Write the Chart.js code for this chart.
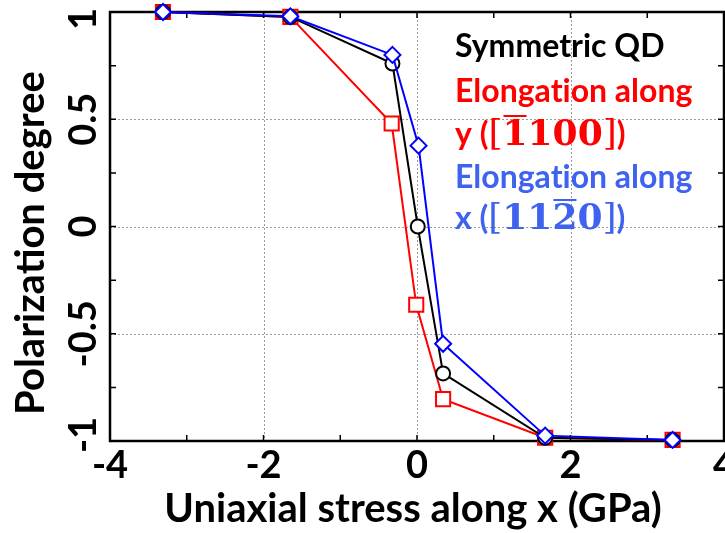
<!DOCTYPE html>
<html>
<head>
<meta charset="utf-8">
<script src="https://cdn.jsdelivr.net/npm/chart.js"></script>
<style>
  html, body { margin: 0; padding: 0; overflow: hidden; background: #fff; }
  #stressChart { display: block; }
</style>
</head>
<body>
<canvas id="stressChart" width="745" height="533"></canvas>
<script>
// Uniaxial stress (GPa) and polarization degree
const stressSym = [-3.31, -1.65, -0.32, 0.01, 0.34, 1.67, 3.33];
const polSym    = [1.0, 0.977, 0.76, 0.0, -0.685, -0.985, -0.995];
const stressY   = [-3.31, -1.65, -0.33, -0.01, 0.34, 1.67, 3.33];
const polY      = [1.0, 0.977, 0.48, -0.365, -0.805, -0.985, -0.995];
const stressX   = [-3.31, -1.65, -0.32, 0.02, 0.34, 1.67, 3.33];
const polX      = [1.0, 0.98, 0.80, 0.377, -0.547, -0.975, -0.995];

// axis ticks
const xMinorTicks = [-4, -3, -2, -1, 0, 1, 2, 3, 4];
const xTickLabels = [-4, -2, 0, 2, 4];
const yMinorTicks = [-1, -0.75, -0.5, -0.25, 0, 0.25, 0.5, 0.75, 1];
const yTickLabels = [-1, -0.5, 0, 0.5, 1];

const SANS = 'Lato, "Open Sans", sans-serif';
const SERIF = '"DejaVu Serif", "Liberation Serif", serif';
const LEG = 'bold 32px ' + SANS;
const BLUE_TEXT = '#3f63ee';

function toPoints(xs, ys) {
    return xs.map((x, i) => ({ x: x, y: ys[i] }));
}

// "Elongation" split in two runs so Lato does not join "ti"
const elongRuns = [{ t: 'Elongat', f: LEG }, { t: 'ion along', f: LEG }];

// legend lines, each made of runs of text
const legendLines = [
    { color: '#000000', runs: [{ t: 'Symmetric QD', f: LEG }] },
    { color: '#ff0000', runs: elongRuns },
    { color: '#ff0000', runs: [
        { t: 'y (', f: LEG },
        { t: '[', f: '36px ' + SERIF },
        { t: '1', f: 'bold 36px ' + SERIF, bar: true },
        { t: '100', f: 'bold 36px ' + SERIF },
        { t: ']', f: '36px ' + SERIF },
        { t: ')', f: LEG }
    ] },
    { color: BLUE_TEXT, runs: elongRuns },
    { color: BLUE_TEXT, runs: [
        { t: 'x (', f: LEG },
        { t: '[', f: '36px ' + SERIF },
        { t: '11', f: 'bold 36px ' + SERIF },
        { t: '2', f: 'bold 36px ' + SERIF, bar: true },
        { t: '0', f: 'bold 36px ' + SERIF },
        { t: ']', f: '36px ' + SERIF },
        { t: ')', f: LEG }
    ] }
];

const framePlugin = {
    id: 'matlabFrame',
    beforeDatasetsDraw(chart) {
        const { ctx, chartArea: a, scales: { x, y } } = chart;
        ctx.save();
        // dotted grid at labelled ticks
        ctx.strokeStyle = '#9a9a9a';
        ctx.lineWidth = 1;
        ctx.setLineDash([2, 2]);
        xTickLabels.forEach(v => {
            const px = Math.round(x.getPixelForValue(v)) + 0.5;
            ctx.beginPath(); ctx.moveTo(px, a.top); ctx.lineTo(px, a.bottom); ctx.stroke();
        });
        yTickLabels.forEach(v => {
            const py = Math.round(y.getPixelForValue(v)) + 0.5;
            ctx.beginPath(); ctx.moveTo(a.left, py); ctx.lineTo(a.right, py); ctx.stroke();
        });
        ctx.setLineDash([]);
        // inward tick marks
        ctx.strokeStyle = '#000';
        ctx.lineWidth = 1.5;
        xMinorTicks.forEach(v => {
            const px = x.getPixelForValue(v);
            ctx.beginPath();
            ctx.moveTo(px, a.bottom); ctx.lineTo(px, a.bottom - 6);
            ctx.moveTo(px, a.top); ctx.lineTo(px, a.top + 6);
            ctx.stroke();
        });
        yMinorTicks.forEach(v => {
            const py = y.getPixelForValue(v);
            ctx.beginPath();
            ctx.moveTo(a.left, py); ctx.lineTo(a.left + 6, py);
            ctx.moveTo(a.right, py); ctx.lineTo(a.right - 6, py);
            ctx.stroke();
        });
        // box
        ctx.lineWidth = 2.5;
        ctx.strokeRect(a.left, a.top, a.right - a.left, a.bottom - a.top);
        ctx.restore();
    },
    afterDraw(chart) {
        const { ctx, chartArea: a, scales: { y } } = chart;
        ctx.save();
        ctx.fillStyle = '#000';
        // rotated y tick labels
        ctx.font = 'bold 38px ' + SANS;
        ctx.textAlign = 'center';
        ctx.textBaseline = 'alphabetic';
        yTickLabels.forEach(v => {
            let py = y.getPixelForValue(v);
            py = Math.min(Math.max(py, a.top + 7), a.bottom - 6);
            ctx.save();
            ctx.translate(96, py);
            ctx.rotate(-Math.PI / 2);
            ctx.fillText(String(v), 0, 0);
            ctx.restore();
        });
        // axis titles
        ctx.font = 'bold 40px ' + SANS;
        ctx.save();
        ctx.translate(44, 243);
        ctx.rotate(-Math.PI / 2);
        ctx.fillText('Polarization degree', 0, 0);
        ctx.restore();
        ctx.fillText('Uniaxial stress along x (GPa)', 413, 522);

        // text legend
        ctx.textAlign = 'left';
        const baselines = [57, 102, 145, 188, 229];
        legendLines.forEach((line, i) => {
            let cx = 455;
            ctx.fillStyle = line.color;
            ctx.strokeStyle = line.color;
            line.runs.forEach(run => {
                ctx.font = run.f;
                const w = ctx.measureText(run.t).width;
                ctx.fillText(run.t, cx, baselines[i]);
                if (run.bar) {
                    ctx.lineWidth = 2;
                    ctx.beginPath();
                    ctx.moveTo(cx + 1, baselines[i] - 29);
                    ctx.lineTo(cx + w - 1, baselines[i] - 29);
                    ctx.stroke();
                }
                cx += w;
            });
        });
        ctx.restore();
    }
};

function initializeStressChart() {
    const ctx = document.getElementById('stressChart').getContext('2d');
    const common = {
        showLine: true,
        borderWidth: 2,
        pointBorderWidth: 2,
        pointBackgroundColor: '#ffffff',
        clip: false
    };
    return new Chart(ctx, {
        type: 'scatter',
        data: {
            datasets: [
                Object.assign({
                    label: 'Elongation along x',
                    data: toPoints(stressX, polX),
                    borderColor: '#0000ff',
                    pointStyle: 'rectRot',
                    pointRadius: 8,
                    order: 1
                }, common),
                Object.assign({
                    label: 'Symmetric QD',
                    data: toPoints(stressSym, polSym),
                    borderColor: '#000000',
                    pointStyle: 'circle',
                    pointRadius: 7,
                    order: 2
                }, common),
                Object.assign({
                    label: 'Elongation along y',
                    data: toPoints(stressY, polY),
                    borderColor: '#ff0000',
                    pointStyle: 'rect',
                    pointRadius: 10,
                    order: 3
                }, common)
            ]
        },
        options: {
            responsive: false,
            animation: false,
            events: [],
            layout: { padding: { top: 10, right: 21, left: 0, bottom: 0 } },
            plugins: { legend: { display: false }, tooltip: { enabled: false } },
            scales: {
                x: {
                    type: 'linear',
                    min: -4,
                    max: 4,
                    afterFit: s => { s.height = 92; },
                    afterBuildTicks: s => { s.ticks = xMinorTicks.map(v => ({ value: v })); },
                    grid: { display: false, drawTicks: false },
                    border: { display: false },
                    ticks: {
                        autoSkip: false,
                        maxRotation: 0,
                        padding: 2,
                        color: '#000',
                        font: { family: SANS, size: 38, weight: 'bold' },
                        callback: v => (xTickLabels.includes(v) ? String(v) : '')
                    }
                },
                y: {
                    type: 'linear',
                    min: -1,
                    max: 1,
                    afterFit: s => { s.width = 110; },
                    grid: { display: false, drawTicks: false },
                    border: { display: false },
                    ticks: { display: false }
                }
            }
        },
        plugins: [framePlugin]
    });
}

initializeStressChart();
</script>
</body>
</html>
